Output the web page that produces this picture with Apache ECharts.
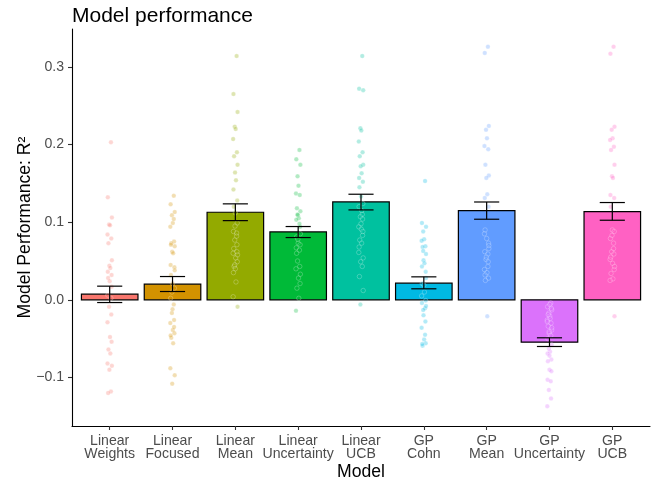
<!DOCTYPE html>
<html>
<head>
<meta charset="utf-8">
<script src="https://cdn.jsdelivr.net/npm/echarts@6/dist/echarts.min.js"></script>
<style>html,body{margin:0;padding:0;background:#fff}#c{width:659px;height:483px}</style>
</head>
<body>
<div id="c"></div>
<script>
const categories = ['Linear\nWeights','Linear\nFocused','Linear\nMean','Linear\nUncertainty','Linear\nUCB','GP\nCohn','GP\nMean','GP\nUncertainty','GP\nUCB'];
const colors = ['#F8766D','#D39200','#93AA00','#00BA38','#00C19F','#00B9E3','#619CFF','#DB72FB','#FF61C3'];
const means = [0.0073, 0.0202, 0.1128, 0.0875, 0.1261, 0.0215, 0.1150, -0.0545, 0.1137];
const lower = [-0.0035, 0.0107, 0.1020, 0.0802, 0.1158, 0.0142, 0.1038, -0.0601, 0.1025];
const upper = [0.0176, 0.0300, 0.1236, 0.0944, 0.1360, 0.0296, 0.1260, -0.0489, 0.1253];
const yTicks = [-0.1, 0.0, 0.1, 0.2, 0.3];

const ptsLinearWeights = [0.203,0.132,0.106,0.097,0.096,0.084,0.079,0.073,0.051,0.044,0.041,0.036,0.032,0.028,0.024,0.017,0.006,0.002,-0.009,-0.019,-0.029,-0.048,-0.054,-0.064,-0.069,-0.082,-0.085,-0.090,-0.118,-0.120];
const ptsLinearFocused = [0.134,0.123,0.113,0.109,0.099,0.094,0.075,0.073,0.069,0.062,0.060,0.045,0.042,0.032,0.021,0.015,0.002,-0.006,-0.017,-0.026,-0.030,-0.039,-0.043,-0.049,-0.056,-0.088,-0.097,-0.108,0.104,0.071,0.038,0.010,-0.012,-0.035,-0.046];
const ptsLinearMean = [0.314,0.265,0.242,0.223,0.220,0.207,0.190,0.185,0.174,0.164,0.154,0.142,0.128,0.120,0.112,0.099,0.088,0.086,0.077,0.071,0.060,0.054,0.049,0.043,0.023,0.004,-0.009,0.095,0.082,0.066,0.058,0.045,0.040,0.062,0.035];
const ptsLinearUncertainty = [0.193,0.181,0.174,0.159,0.147,0.137,0.135,0.118,0.114,0.109,0.105,0.103,0.094,0.081,0.073,0.071,0.067,0.064,0.050,0.043,0.040,0.028,0.021,0.015,0.002,-0.014,0.085,0.078,0.098,0.060,0.033,0.110];
const ptsLinearUCB = [0.314,0.272,0.270,0.221,0.218,0.204,0.190,0.185,0.174,0.172,0.163,0.157,0.152,0.145,0.133,0.124,0.120,0.110,0.107,0.104,0.094,0.091,0.088,0.077,0.073,0.061,0.054,0.049,0.043,0.030,0.012,-0.006,0.098,0.083,0.068,0.115];
const ptsGPCohn = [0.153,0.099,0.094,0.088,0.078,0.076,0.069,0.068,0.059,0.051,0.047,0.043,0.036,0.021,0.019,-0.001,-0.004,-0.011,-0.013,-0.028,-0.036,-0.051,-0.056,-0.059,0.010,0.005,-0.008,-0.020,-0.045,-0.057,0.028,0.063];
const ptsGPMean = [0.326,0.318,0.224,0.219,0.208,0.198,0.194,0.174,0.160,0.157,0.136,0.131,0.120,0.090,0.079,0.073,0.062,0.059,0.052,0.049,0.039,0.035,0.028,0.025,-0.021,0.085,0.066,0.055,0.043,0.032,0.070];
const ptsGPUncertainty = [-0.004,-0.009,-0.013,-0.017,-0.021,-0.026,-0.030,-0.034,-0.039,-0.043,-0.067,-0.069,-0.077,-0.079,-0.090,-0.092,-0.103,-0.105,-0.116,-0.127,-0.137,-0.006,-0.011,-0.019,-0.024,-0.028,-0.036,-0.041,-0.046,-0.050,-0.058,-0.063,-0.072];
const ptsGPUCB = [0.326,0.317,0.223,0.219,0.208,0.206,0.197,0.193,0.174,0.159,0.157,0.135,0.131,0.120,0.090,0.088,0.079,0.073,0.062,0.059,0.052,0.047,0.039,0.034,0.027,0.025,-0.021,0.083,0.066,0.055,0.043];
const points = [ptsLinearWeights, ptsLinearFocused, ptsLinearMean, ptsLinearUncertainty, ptsLinearUCB, ptsGPCohn, ptsGPMean, ptsGPUncertainty, ptsGPUCB];
const jitter = [0.02,-0.03,0.035,-0.01,0.005,-0.035,0.025,-0.02,0.035,-0.005,0.01,-0.03,0.03,-0.025,0.00,0.03,-0.03,0.02,-0.01,0.025,-0.035,0.005,0.03,-0.02,0.01,-0.035,0.035,-0.005,0.02,-0.025,0.035,-0.01,0.00,0.025,-0.03,0.01];

const FONT = '"Liberation Sans", Arial, Helvetica, sans-serif';
const chart = echarts.init(document.getElementById('c'), null, {renderer: 'canvas'});

const barData = means.map((m, i) => [i + 1, m]);
const errData = means.map((m, i) => [i + 1, lower[i], upper[i]]);

const series = [];
series.push({
  type: 'custom',
  z: 1,
  data: barData,
  encode: {x: 0, y: 1},
  renderItem: function (params, api) {
    const x = api.value(0), y = api.value(1);
    const w = api.size([0.9, 0])[0];
    const p0 = api.coord([x, 0]);
    const p1 = api.coord([x, y]);
    return {
      type: 'rect',
      shape: {x: p0[0] - w / 2, y: Math.min(p0[1], p1[1]), width: w, height: Math.abs(p1[1] - p0[1])},
      style: {fill: colors[params.dataIndex], stroke: '#000', lineWidth: 1.2}
    };
  }
});
points.forEach((arr, i) => {
  series.push({
    type: 'scatter',
    z: 2,
    symbolSize: 4.5,
    data: arr.map((v, k) => [i + 1 + jitter[k % jitter.length], v]),
    itemStyle: {color: colors[i], borderColor: '#ffffff', borderWidth: 0.8, opacity: 0.3},
    silent: true
  });
});
series.push({
  type: 'custom',
  z: 3,
  data: errData,
  encode: {x: 0, y: [1, 2]},
  renderItem: function (params, api) {
    const x = api.value(0);
    const lo = api.coord([x, api.value(1)]);
    const hi = api.coord([x, api.value(2)]);
    const hw = api.size([0.4, 0])[0] / 2;
    const st = {stroke: '#000', lineWidth: 1.2};
    return {
      type: 'group',
      children: [
        {type: 'line', shape: {x1: lo[0], y1: lo[1], x2: hi[0], y2: hi[1]}, style: st},
        {type: 'line', shape: {x1: lo[0] - hw, y1: lo[1], x2: lo[0] + hw, y2: lo[1]}, style: st},
        {type: 'line', shape: {x1: hi[0] - hw, y1: hi[1], x2: hi[0] + hw, y2: hi[1]}, style: st}
      ]
    };
  }
});

chart.setOption({
  backgroundColor: '#fff',
  animation: false,
  title: {
    text: 'Model performance',
    left: 67, top: 1,
    textStyle: {fontFamily: FONT, fontSize: 21, fontWeight: 'normal', color: '#000'}
  },
  grid: {left: 72, right: 9, top: 29, bottom: 57, containLabel: false, outerBoundsMode: 'none'},
  xAxis: {
    type: 'value', min: 0.4, max: 9.6,
    name: 'Model', nameLocation: 'middle', nameGap: 37, nameMoveOverlap: false,
    nameTextStyle: {fontFamily: FONT, fontSize: 17.6, color: '#000'},
    axisLine: {show: true, onZero: false, lineStyle: {color: '#000', width: 1.1}},
    axisTick: {show: true, length: 4, customValues: [1,2,3,4,5,6,7,8,9], lineStyle: {color: '#333', width: 1.1}},
    axisLabel: {
      customValues: [1,2,3,4,5,6,7,8,9],
      formatter: v => categories[Math.round(v) - 1],
      fontFamily: FONT, fontSize: 14.1, color: '#4D4D4D', lineHeight: 12.8, margin: 9
    },
    splitLine: {show: false}
  },
  yAxis: {
    type: 'value', min: -0.1625, max: 0.3488,
    name: 'Model Performance: R²', nameLocation: 'middle', nameGap: 38, nameMoveOverlap: false,
    nameTextStyle: {fontFamily: FONT, fontSize: 17.6, color: '#000'},
    axisLine: {show: true, onZero: false, lineStyle: {color: '#000', width: 1.1}},
    axisTick: {show: true, length: 4, customValues: yTicks, lineStyle: {color: '#333', width: 1.1}},
    axisLabel: {
      customValues: yTicks,
      formatter: v => v.toFixed(1).replace('-', '\u2212'),
      fontFamily: FONT, fontSize: 14.1, color: '#4D4D4D', margin: 8
    },
    splitLine: {show: false}
  },
  series: series
});
</script>
</body>
</html>
